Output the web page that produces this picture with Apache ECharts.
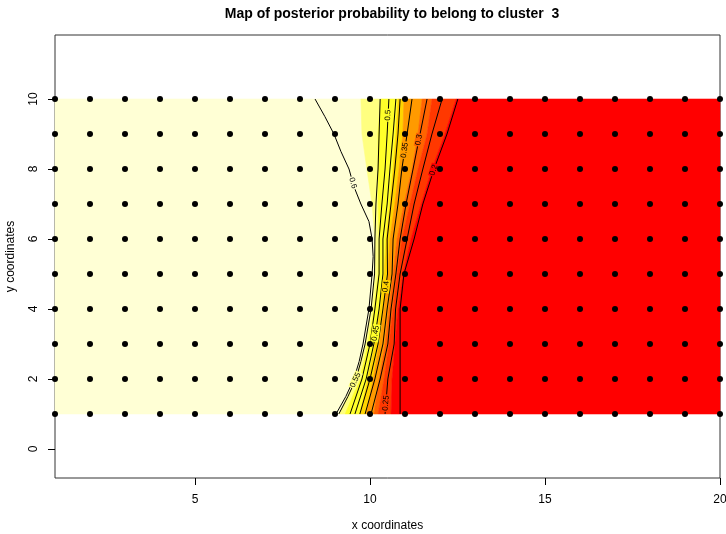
<!DOCTYPE html>
<html><head><meta charset="utf-8">
<script src="https://cdn.jsdelivr.net/npm/echarts@6/dist/echarts.min.js"></script>
<style>html,body{margin:0;padding:0;background:#fff}#c{width:726px;height:534px}</style>
</head><body><div id="c"></div>
<script>
// ---- data ----
const gridX = [1,2,3,4,5,6,7,8,9,10,11,12,13,14,15,16,17,18,19,20];
const gridY = [1,2,3,4,5,6,7,8,9,10];
const xTicks = [5,10,15,20];
const yTicks = [0,2,4,6,8,10];
const xRange = [1, 20];
const yRange = [-0.83, 11.83];

// colour-class boundaries of the probability image, x position at each row
const rowsY   = [10, 9, 8, 7, 6, 5, 4, 3, 2, 1];
const break1X = [9.74, 9.77, 9.91, 10.06, 10.14, 10.14, 10.03, 9.86, 9.60, 9.11];
const break2X = [10.31, 10.23, 10.23, 10.23, 10.26, 10.23, 10.11, 9.94, 9.71, 9.29];
const break3X = [10.80, 10.74, 10.66, 10.57, 10.46, 10.40, 10.29, 10.14, 9.94, 9.71];
const break4X = [10.97, 10.94, 10.83, 10.71, 10.57, 10.51, 10.40, 10.26, 10.09, 9.89];
const break5X = [11.49, 11.37, 11.20, 10.97, 10.77, 10.66, 10.54, 10.43, 10.26, 10.11];
const break6X = [11.77, 11.63, 11.37, 11.14, 10.91, 10.77, 10.66, 10.54, 10.40, 10.23];
const break7X = [12.46, 12.14, 11.77, 11.46, 11.17, 10.94, 10.80, 10.71, 10.63, 10.60];

// contour lines [x, y]
const contour060 = [[8.43,10],[8.71,9.5],[8.97,9],[9.17,8.5],[9.40,8],[9.54,7.5],[9.74,7],[9.97,6.5],[10.06,6],[10.09,5.5],[10.06,5],[9.97,4],[9.80,3],[9.69,2.5],[9.54,2],[9.31,1.5],[9.03,1]];
const contour055 = [[10.29,10],[10.26,9],[10.23,8],[10.17,7],[10.14,6],[10.13,5],[10.03,4],[9.86,3],[9.74,2.5],[9.60,2],[9.37,1.5],[9.11,1]];
const contour050 = [[10.54,10],[10.49,9],[10.43,8],[10.34,7],[10.26,6],[10.26,5],[10.14,4],[10.00,3],[9.77,2],[9.43,1]];
const contour045 = [[10.74,10],[10.66,9],[10.57,8],[10.49,7],[10.37,6],[10.37,5],[10.26,4],[10.11,3],[9.89,2],[9.57,1]];
const contour040 = [[10.86,10],[10.80,9],[10.71,8],[10.60,7],[10.49,6],[10.50,5],[10.37,4],[10.23,3],[10.00,2],[9.71,1]];
const contour035 = [[11.20,10],[11.06,9],[10.91,8],[10.80,7],[10.66,6],[10.63,5],[10.49,4],[10.37,3],[10.14,2],[9.86,1]];
const contour030 = [[11.63,10],[11.43,9],[11.23,8],[11.03,7],[10.86,6],[10.74,5],[10.60,4],[10.51,3],[10.29,2],[10.03,1]];
const contour025 = [[12.06,10],[11.77,9],[11.51,8],[11.26,7],[11.06,6],[10.86,5],[10.73,4],[10.69,3],[10.51,2],[10.43,1]];
const contour020 = [[12.51,10],[12.20,9],[11.83,8],[11.51,7],[11.26,6],[10.97,5],[10.86,4],[10.86,3],[10.86,2],[10.86,1]];
const contourLevels = ['0.6','0.55','0.5','0.45','0.4','0.35','0.3','0.25','0.2'];

// contour labels: level and y where it sits on its line
const labelLevels = ['0.6','0.5','0.35','0.3','0.2','0.4','0.45','0.55','0.25'];
const labelY      = [7.6, 9.54, 8.54, 8.83, 7.97, 4.64, 3.31, 1.97, 1.31];

// ---- styles ----
const bandColors = ['#FFFFD5','#FFFF80','#FFFF2A','#FFD400','#FF9A00','#FF6400','#FF3800','#FF0000'];
const FONT = 'Liberation Sans, Arial, Helvetica, sans-serif';

const breaks = [break1X, break2X, break3X, break4X, break5X, break6X, break7X];
const contours = [contour060, contour055, contour050, contour045, contour040, contour035, contour030, contour025, contour020];

function boundary(i) {
  if (i === 0) return rowsY.map(y => [xRange[0], y]);
  if (i === breaks.length + 1) return rowsY.map(y => [xRange[1], y]);
  return rowsY.map((y, k) => [breaks[i - 1][k], y]);
}
function xOnLine(line, y) {
  for (let k = 0; k < line.length - 1; k++) {
    const a = line[k], b = line[k + 1];
    if ((y <= a[1] && y >= b[1]) || (y >= a[1] && y <= b[1])) {
      const t = (y - a[1]) / (b[1] - a[1] || 1);
      return { x: a[0] + t * (b[0] - a[0]), a, b };
    }
  }
  return { x: line[0][0], a: line[0], b: line[1] };
}
function xOnRow(arr, y) {
  for (let k = 0; k < rowsY.length - 1; k++) {
    if (y <= rowsY[k] && y >= rowsY[k + 1]) {
      const t = (y - rowsY[k]) / (rowsY[k + 1] - rowsY[k]);
      return arr[k] + t * (arr[k + 1] - arr[k]);
    }
  }
  return arr[0];
}
function bandAt(x, y) {
  let n = 0;
  breaks.forEach(b => { if (xOnRow(b, y) < x) n++; });
  return bandColors[n];
}

const points = [];
gridY.forEach(y => gridX.forEach(x => points.push([x, y])));

const chart = echarts.init(document.getElementById('c'), null, { renderer: 'canvas' });
chart.setOption({
  animation: false,
  backgroundColor: '#fff',
  title: {
    text: 'Map of posterior probability to belong to cluster  3',
    left: 387, top: 2, textAlign: 'center',
    textStyle: { fontFamily: FONT, fontSize: 14, fontWeight: 'bold', color: '#000', lineHeight: 14 }
  },
  grid: { left: 55, right: 6, top: 35, bottom: 56, show: true, borderColor: '#333', borderWidth: 1,
          backgroundColor: 'transparent', containLabel: false, outerBoundsMode: 'none' },
  xAxis: {
    type: 'value', min: xRange[0], max: xRange[1],
    axisLine: { show: false, onZero: false }, splitLine: { show: false },
    axisTick: { show: true, length: 7, lineStyle: { color: '#000' }, customValues: xTicks },
    axisLabel: { customValues: xTicks, margin: 16, color: '#000', fontSize: 12, fontFamily: FONT, lineHeight: 12 },
    name: 'x coordinates', nameLocation: 'middle', nameGap: 42,
    nameTextStyle: { color: '#000', fontSize: 12, fontFamily: FONT, lineHeight: 12 }
  },
  yAxis: {
    type: 'value', min: yRange[0], max: yRange[1],
    axisLine: { show: false, onZero: false }, splitLine: { show: false },
    axisTick: { show: true, length: 7, lineStyle: { color: '#000' }, customValues: yTicks },
    axisLabel: { customValues: yTicks, rotate: 90, margin: 15, color: '#000', fontSize: 12, fontFamily: FONT, lineHeight: 12 },
    name: 'y coordinates', nameLocation: 'middle', nameGap: 38,
    nameTextStyle: { color: '#000', fontSize: 12, fontFamily: FONT, lineHeight: 12 }
  },
  series: [
    {
      type: 'custom', silent: true, z: 1, clip: false,
      data: bandColors.map((c, i) => [i, 0]),
      encode: { x: 0, y: 1 },
      renderItem(params, api) {
        const i = params.dataIndex;
        const pts = boundary(i).concat(boundary(i + 1).slice().reverse()).map(p => api.coord(p));
        return { type: 'polygon', shape: { points: pts }, style: { fill: bandColors[i], stroke: bandColors[i], lineWidth: 0.6 } };
      }
    },
    {
      type: 'custom', silent: true, z: 2, clip: false,
      data: contours.map((c, i) => [i, 0]),
      encode: { x: 0, y: 1 },
      renderItem(params, api) {
        const line = contours[params.dataIndex];
        return { type: 'polyline', shape: { points: line.map(p => api.coord(p)) }, style: { stroke: '#000', lineWidth: 1, fill: null } };
      }
    },
    {
      type: 'custom', silent: true, z: 3, clip: false,
      data: labelLevels.map((l, i) => [i, 0]),
      encode: { x: 0, y: 1 },
      renderItem(params, api) {
        const i = params.dataIndex;
        const line = contours[contourLevels.indexOf(labelLevels[i])];
        const r = xOnLine(line, labelY[i]);
        const p = api.coord([r.x, labelY[i]]);
        const pa = api.coord(r.a), pb = api.coord(r.b);
        let ang = Math.atan2(-(pb[1] - pa[1]), pb[0] - pa[0]);
        if (ang > Math.PI / 2) ang -= Math.PI;
        if (ang <= -Math.PI / 2) ang += Math.PI;
        return {
          type: 'text', x: p[0], y: p[1], rotation: ang,
          style: { text: labelLevels[i], fontSize: 8, fontFamily: FONT, fill: '#000', align: 'center', verticalAlign: 'middle',
                   backgroundColor: bandAt(r.x, labelY[i]), padding: [0, 1] }
        };
      }
    },
    {
      type: 'scatter', z: 4, clip: false, silent: true,
      data: points, symbol: 'circle', symbolSize: 6,
      itemStyle: { color: '#000', opacity: 1 }
    }
  ]
});
</script></body></html>
